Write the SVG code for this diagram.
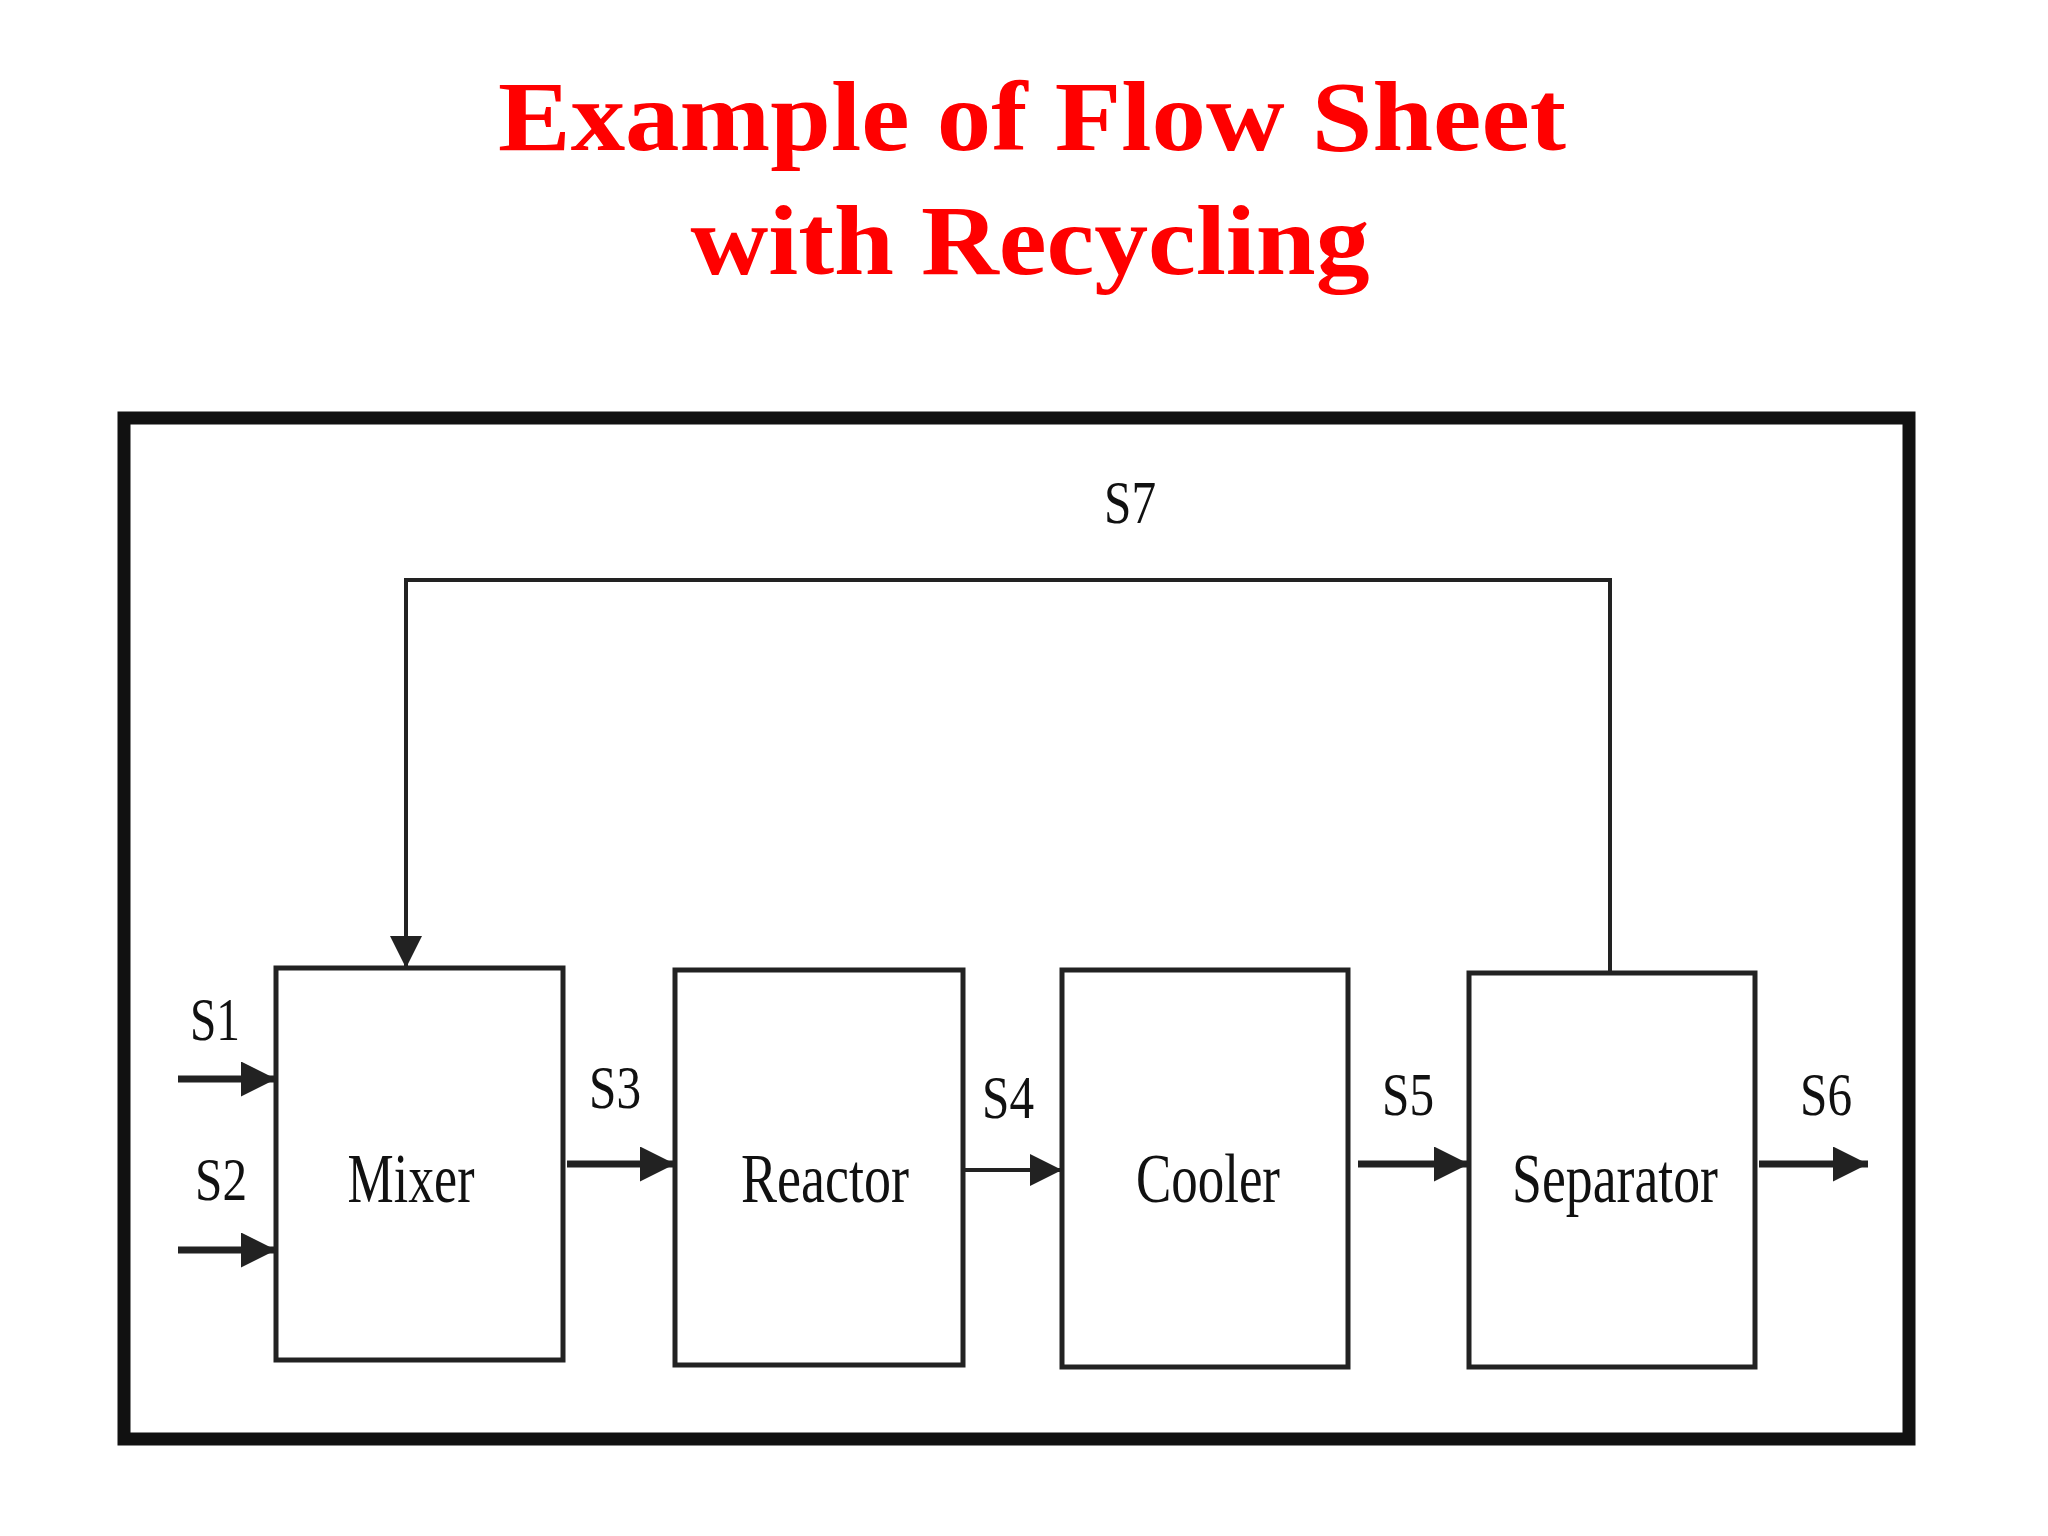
<svg xmlns="http://www.w3.org/2000/svg" width="2048" height="1536" viewBox="0 0 2048 1536">
<defs>
<style>
.title{font-family:"Liberation Serif",serif;font-weight:bold;font-size:100px;fill:#ff0000;text-anchor:middle}
.box{fill:#fff;stroke:#222;stroke-width:5}
.lbl{font-family:"Liberation Serif",serif;font-size:70px;fill:#111;text-anchor:middle}
.s{font-family:"Liberation Serif",serif;font-size:62px;fill:#111;text-anchor:middle}
.ln{fill:none;stroke:#222;stroke-width:4}
.th{fill:none;stroke:#222;stroke-width:7}
</style>
<marker id="ah" viewBox="0 0 10 10" refX="10" refY="5" markerWidth="5" markerHeight="5" markerUnits="strokeWidth" orient="auto"><path d="M0,0L10,5L0,10z" fill="#222"/></marker>
<marker id="ah2" viewBox="0 0 10 10" refX="10" refY="5" markerWidth="8" markerHeight="8" markerUnits="strokeWidth" orient="auto"><path d="M0,0L10,5L0,10z" fill="#222"/></marker>
</defs>
<rect width="2048" height="1536" fill="#fff"/>
<text class="title" x="1032" y="150" textLength="1068" lengthAdjust="spacingAndGlyphs">Example of  Flow Sheet</text>
<text class="title" x="1030" y="274" textLength="679" lengthAdjust="spacingAndGlyphs">with Recycling</text>
<rect x="124" y="418" width="1785" height="1021" fill="none" stroke="#111" stroke-width="13"/>
<g id="mixer"><rect class="box" x="276" y="968" width="287" height="392"/><text class="lbl" x="411" y="1202" textLength="127" lengthAdjust="spacingAndGlyphs">Mixer</text></g>
<g id="reactor"><rect class="box" x="675" y="970" width="288" height="395"/><text class="lbl" x="825" y="1202" textLength="168" lengthAdjust="spacingAndGlyphs">Reactor</text></g>
<g id="cooler"><rect class="box" x="1062" y="970" width="286" height="397"/><text class="lbl" x="1208" y="1202" textLength="144" lengthAdjust="spacingAndGlyphs">Cooler</text></g>
<g id="separator"><rect class="box" x="1469" y="973" width="286" height="394"/><text class="lbl" x="1615" y="1202" textLength="206" lengthAdjust="spacingAndGlyphs">Separator</text></g>
<g id="connectors">
<path class="ln" d="M1610,973V580H406V968" marker-end="url(#ah2)"/>
<path class="th" d="M178,1079H276" marker-end="url(#ah)"/>
<path class="th" d="M178,1250H276" marker-end="url(#ah)"/>
<path class="th" d="M567,1164H675" marker-end="url(#ah)"/>
<path class="ln" d="M963,1170H1062" marker-end="url(#ah2)"/>
<path class="th" d="M1358,1164H1469" marker-end="url(#ah)"/>
<path class="th" d="M1759,1164H1868" marker-end="url(#ah)"/>
<text class="s" x="1130" y="523" textLength="52" lengthAdjust="spacingAndGlyphs">S7</text>
<text class="s" x="215" y="1040" textLength="50" lengthAdjust="spacingAndGlyphs">S1</text>
<text class="s" x="221" y="1200" textLength="52" lengthAdjust="spacingAndGlyphs">S2</text>
<text class="s" x="615" y="1108" textLength="52" lengthAdjust="spacingAndGlyphs">S3</text>
<text class="s" x="1008" y="1118" textLength="52" lengthAdjust="spacingAndGlyphs">S4</text>
<text class="s" x="1408" y="1115" textLength="52" lengthAdjust="spacingAndGlyphs">S5</text>
<text class="s" x="1826" y="1115" textLength="52" lengthAdjust="spacingAndGlyphs">S6</text>
</g>
</svg>
